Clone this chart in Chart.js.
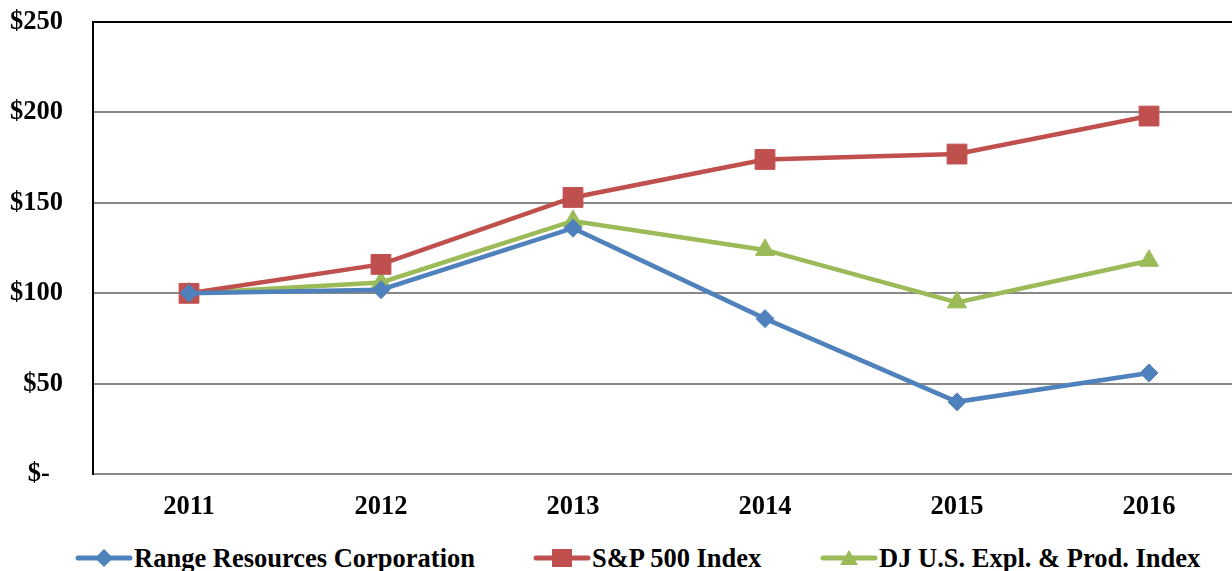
<!DOCTYPE html>
<html>
<head>
<meta charset="utf-8">
<script src="https://cdn.jsdelivr.net/npm/chart.js@4"></script>
<style>
  html, body { margin: 0; padding: 0; background: #fff; overflow: hidden; width: 1232px; height: 571px; }
  #wrap { position: absolute; left: 0; top: 0; width: 1260px; height: 540px; }
  #legend { position: absolute; top: 544px; left: 0; width: 1232px; height: 28px;
    font-family: "Liberation Serif", "Times New Roman", serif; font-weight: bold; font-size: 26.5px; color: #000; }
  .item { position: absolute; top: 0; white-space: nowrap; }
  .mk { position: absolute; left: 0; top: 2px; }
  .txt { position: absolute; left: 59px; top: -1px; line-height: 30px; }
</style>
</head>
<body>
<div id="wrap"><canvas id="myChart" width="1260" height="540"></canvas></div>
<div id="legend"></div>
<script>
var years = ["2011", "2012", "2013", "2014", "2015", "2016"];
var rangeRes = [100, 102, 136, 86, 40, 56];
var sp500 = [100, 116, 153, 174, 177, 198];
var djEP = [100, 106, 140, 124, 95, 118];
var seriesNames = ["Range Resources Corporation", "S&P 500 Index", "DJ U.S. Expl. & Prod. Index"];
var yTicks = [0, 50, 100, 150, 200, 250];

var blue = "#4F81BD";
var red = "#C0504D";
var green = "#9BBB59";
var fontName = "'Liberation Serif', 'Times New Roman', serif";

// ligne noire en haut de la zone du graphe
var topBorder = {
  id: "topBorder",
  afterDraw: function (chart) {
    var a = chart.chartArea;
    var ctx = chart.ctx;
    ctx.save();
    ctx.strokeStyle = "#000";
    ctx.lineWidth = 2;
    ctx.beginPath();
    ctx.moveTo(a.left - 1, a.top);
    ctx.lineTo(a.right, a.top);
    ctx.stroke();
    ctx.restore();
  },
};

var ctx = document.getElementById("myChart").getContext("2d");
new Chart(ctx, {
  type: "line",
  data: {
    labels: years,
    datasets: [
      {
        label: seriesNames[0],
        data: rangeRes,
        borderColor: blue,
        backgroundColor: blue,
        borderWidth: 4.5,
        pointStyle: "rectRot",
        pointRadius: 9,
        pointBorderWidth: 1,
        tension: 0,
      },
      {
        label: seriesNames[1],
        data: sp500,
        borderColor: red,
        backgroundColor: red,
        borderWidth: 4.5,
        pointStyle: "rect",
        pointRadius: 14,
        pointBorderWidth: 1,
        tension: 0,
      },
      {
        label: seriesNames[2],
        data: djEP,
        borderColor: green,
        backgroundColor: green,
        borderWidth: 4.5,
        pointStyle: "triangle",
        pointRadius: 11,
        pointBorderWidth: 1,
        tension: 0,
      },
    ],
  },
  options: {
    responsive: false,
    animation: false,
    layout: { padding: { top: 22, left: 0, right: 0, bottom: 0 } },
    plugins: { legend: { display: false }, tooltip: { enabled: false } },
    scales: {
      x: {
        offset: true,
        grid: { display: false, drawTicks: false },
        border: { color: "#888", width: 2 },
        ticks: {
          color: "#000",
          padding: 17,
          font: { family: fontName, size: 26.5, weight: "bold" },
        },
      },
      y: {
        min: 0,
        max: 250,
        afterFit: function (scale) {
          scale.width = 93;
          scale.paddingTop = 0;
          scale.paddingBottom = 0;
        },
        afterBuildTicks: function (scale) {
          scale.ticks = yTicks.map(function (v) { return { value: v }; });
        },
        grid: { color: "#888", lineWidth: 2, drawTicks: false },
        border: { color: "#000", width: 2 },
        ticks: {
          color: "#000",
          padding: 30,
          font: { family: fontName, size: 26.5, weight: "bold" },
          callback: function (v) { return v === 0 ? "$-  " : "$" + v; },
        },
      },
    },
  },
  plugins: [topBorder],
});

// légende façon Excel : trait + marqueur
function markerSvg(color, shape) {
  var s = '<svg width="58" height="24" viewBox="0 0 58 24">';
  s += '<line x1="3" y1="12" x2="55" y2="12" stroke="' + color + '" stroke-width="5" stroke-linecap="round"/>';
  if (shape == "diamond") s += '<polygon points="29,3 38,12 29,21 20,12" fill="' + color + '"/>';
  if (shape == "square") s += '<rect x="19" y="3" width="20" height="18" fill="' + color + '"/>';
  if (shape == "triangle") s += '<polygon points="29,4 38,19 20,19" fill="' + color + '"/>';
  return s + "</svg>";
}
var legendItems = [
  { name: seriesNames[0], color: blue, shape: "diamond", left: 75 },
  { name: seriesNames[1], color: red, shape: "square", left: 533 },
  { name: seriesNames[2], color: green, shape: "triangle", left: 820 },
];
var legend = document.getElementById("legend");
for (let it of legendItems) {
  var d = document.createElement("div");
  d.className = "item";
  d.style.left = it.left + "px";
  var m = document.createElement("div");
  m.className = "mk";
  m.innerHTML = markerSvg(it.color, it.shape);
  d.appendChild(m);
  var t = document.createElement("span");
  t.className = "txt";
  t.textContent = it.name;
  d.appendChild(t);
  legend.appendChild(d);
}
</script>
</body>
</html>
